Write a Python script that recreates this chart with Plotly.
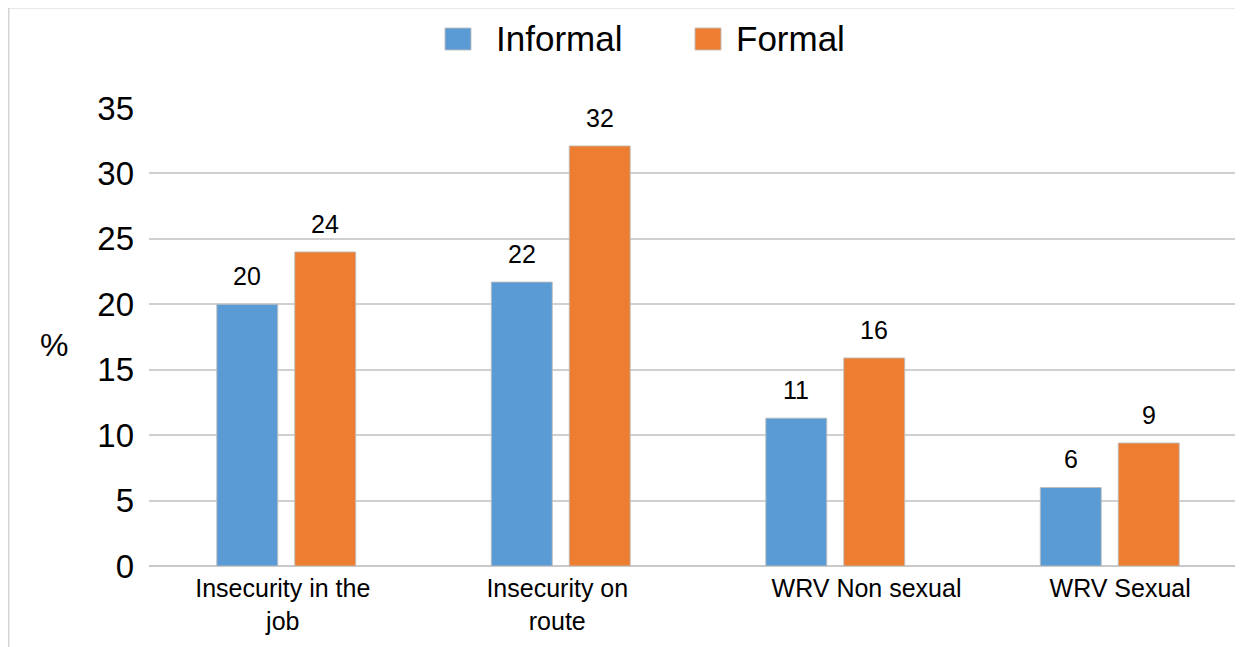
import plotly.graph_objects as go

categories = ["Insecurity in the job", "Insecurity on route", "WRV Non sexual", "WRV Sexual"]
tick_labels = ["Insecurity in the\u00a0<br>job\u00a0", "Insecurity on\u00a0<br>route\u00a0",
               "\u00a0" * 9 + "WRV Non sexual", "\u00a0" * 3 + "WRV Sexual"]
informal = [20.0, 21.7, 11.3, 6.0]
formal = [24.0, 32.1, 15.9, 9.4]
series_names = ["Informal", "Formal"]
colors = ["#5B9BD5", "#ED7D31"]
y_ticks = [0, 5, 10, 15, 20, 25, 30, 35]

OFF = 8  # page body margin
W, H = 1243 - OFF, 647 - OFF
L, R, T, B = 149 - OFF, 0, 108 - OFF, 647 - 566
PW, PH = W - L - R, H - T - B
CAT_PX = 274.5

def px(x):  # page pixel -> paper
    return (x - OFF - L) / PW

def py(y):
    return (H - B - (y - OFF)) / PH

FONT = "Liberation Sans, Arial, sans-serif"

fig = go.Figure()
for name, vals, col in zip(series_names, [informal, formal], colors):
    fig.add_trace(go.Bar(
        x=categories, y=vals, name=name,
        marker=dict(color=col, line=dict(color="rgba(190,190,190,0.9)", width=1)),
        showlegend=False,
    ))

annotations = []
slot_px = CAT_PX * (1 - 0.432) / 2
for i, vals in enumerate([informal, formal]):
    shift = (-0.5 + i) * slot_px
    for c, v in zip(categories, vals):
        annotations.append(dict(x=c, y=v, xref="x", yref="y", text=f"{round(v):d}",
                                showarrow=False, xshift=shift, yshift=12, yanchor="bottom",
                                font=dict(size=25, family=FONT, color="#000")))

shapes = [
    dict(type="rect", xref="paper", yref="paper",
         x0=px(8.5), x1=px(1260), y0=py(700), y1=py(7.5),
         line=dict(color="#d4d4d4", width=2), layer="below"),
]
annotations.append(dict(text="%", xref="paper", yref="paper", x=px(54), y=py(345),
                        showarrow=False, font=dict(size=32, family=FONT, color="#000"),
                        xanchor="center", yanchor="middle"))
leg = [(445, 497, series_names[0], colors[0]), (695, 737, series_names[1], colors[1])]
for sx, tx, name, col in leg:
    shapes.append(dict(type="rect", xref="paper", yref="paper",
                       x0=px(sx), x1=px(sx + 26), y0=py(50), y1=py(28),
                       fillcolor=col, line=dict(color="rgba(190,190,190,0.9)", width=1)))
    annotations.append(dict(text=name, xref="paper", yref="paper",
                            x=px(tx - 3), y=py(39), xanchor="left", yanchor="middle",
                            showarrow=False, font=dict(size=35, family=FONT, color="#000")))

fig.update_layout(
    width=W, height=H,
    margin=dict(l=L, r=R, t=T, b=B, pad=0),
    paper_bgcolor="white", plot_bgcolor="white",
    barmode="group", bargap=0.432, bargroupgap=0.218,
    showlegend=False,
    font=dict(family=FONT, color="#000"),
    shapes=shapes, annotations=annotations,
)
fig.update_xaxes(range=[-0.5, -0.5 + PW / CAT_PX], showgrid=False, showline=False,
                 zeroline=False, ticks="", tickvals=categories, ticktext=tick_labels,
                 ticklabelstandoff=5,
                 tickfont=dict(size=25, family=FONT, color="#000"))
fig.update_yaxes(range=[0, 35], tickvals=y_ticks, showgrid=True, gridcolor="#d0d0d0",
                 gridwidth=2, zeroline=True, zerolinecolor="#c8c8c8", zerolinewidth=2,
                 showline=False, ticks="", ticklabelstandoff=14,
                 tickfont=dict(size=33, family=FONT, color="#000"))

fig.write_html("out.html")
